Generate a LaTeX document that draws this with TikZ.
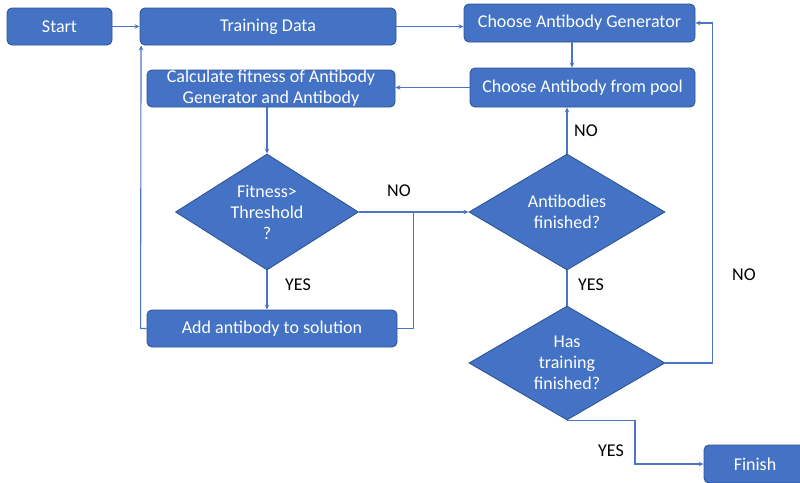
\documentclass[tikz,border=0pt]{standalone}
\usepackage{fontspec}
\setmainfont{Carlito}
\usetikzlibrary{shapes.geometric,arrows.meta,calc}
\definecolor{boxfill}{HTML}{4472C4}
\definecolor{boxline}{HTML}{2F5597}
\definecolor{conn}{HTML}{4A76C4}
\begin{document}
\begin{tikzpicture}[x=1pt,y=-1pt,
  every node/.style={font=\fontsize{18}{21}\selectfont},
  box/.style={draw=boxline,line width=0.9pt,fill=boxfill,rounded corners=5pt,text=white,align=center,inner sep=0pt},
  dia/.style={diamond,draw=boxline,line width=0.9pt,fill=boxfill,text=white,align=center,inner sep=0pt,aspect=1.6},
  lab/.style={text=black,inner sep=0pt},
  arr/.style={draw=conn,line width=1.1pt,-{Stealth[length=5pt,width=4.5pt]}},
  ln/.style={draw=conn,line width=1.1pt}]
\useasboundingbox (0,0) rectangle (800,482);
\node[box,minimum width=105pt,minimum height=37pt] (start) at (59.5,26.5) {Start};
\node[box,minimum width=256pt,minimum height=37pt] (train) at (268,26.5) {Training Data};
\node[box,minimum width=231pt,minimum height=38pt] (gen) at (579.5,23) {Choose Antibody Generator};
\node[box,minimum width=225pt,minimum height=39pt] (pool) at (582.5,87.5) {Choose Antibody from pool};
\node[box,minimum width=248pt,minimum height=37pt] (calc) at (271,88.5) {Calculate fitness of Antibody\\Generator and Antibody};
\node[dia,minimum width=183pt,minimum height=116pt] (fit) at (267,212) {Fitness>\\Threshold\\?};
\node[box,minimum width=250pt,minimum height=37pt] (add) at (272,328.5) {Add antibody to solution};
\node[dia,minimum width=196pt,minimum height=116pt] (anti) at (567,212) {Antibodies\\finished?};
\node[dia,minimum width=196pt,minimum height=114pt] (has) at (567,363) {Has\\training\\finished?};
\node[box,minimum width=102pt,minimum height=38pt] (fin) at (755,464) {Finish};
\node[lab] (lno1) at (399,191) {NO};
\node[lab] (lyes1) at (298,285) {YES};
\node[lab] (lno2) at (586,131) {NO};
\node[lab] (lyes2) at (591,285) {YES};
\node[lab] (lno3) at (744,275) {NO};
\node[lab] (lyes3) at (611,451) {YES};
\coordinate (j) at ($(fit.east)!0.5!(anti.west)$);
\draw[arr] (start) -- (train);
\draw[arr] (train.east) -- (train.east -| gen.west);
\draw[arr] ([xshift=-7.5pt]gen.south) -- ([xshift=-7.5pt]gen.south |- pool.north);
\draw[arr] (pool.west) -- (pool.west -| calc.east);
\draw[arr] (calc.south -| fit.north) -- (fit.north);
\draw[arr] (fit.east) -- (anti.west);
\draw[arr] (fit.south) -- (fit.south |- add.north);
\draw[ln] (add.east) -| (j);
\draw[arr] (add.west) -- ++(-6,0) -- ([xshift=1.5pt]train.south west);
\draw[arr] (anti.north) -- (anti.north |- pool.south);
\draw[ln] (anti.south) -- (has.north);
\draw[arr] (has.east) -- ++(47,0) |- (gen.east);
\draw[arr] (has.south) -- ++(68,0) |- (fin.west);
\end{tikzpicture}
\end{document}
